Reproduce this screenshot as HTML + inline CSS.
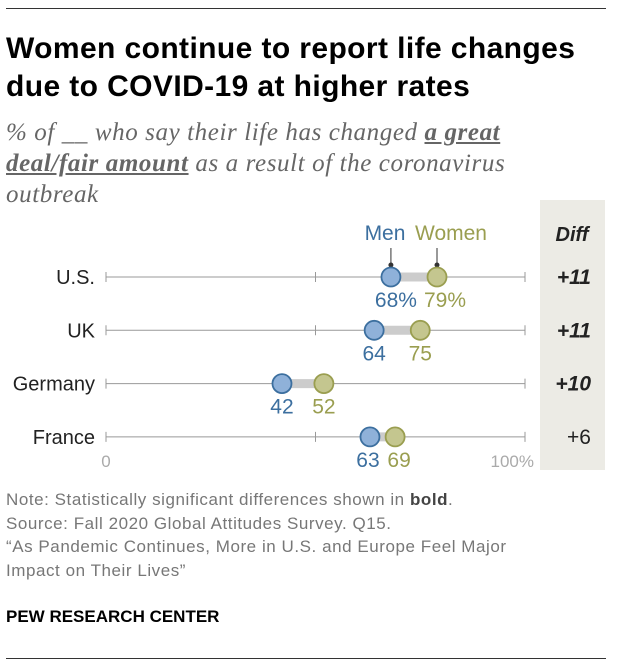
<!DOCTYPE html>
<html><head><meta charset="utf-8"><style>
body{margin:0;background:#fff;font-family:"Liberation Sans",sans-serif;}
#wrap{position:relative;width:620px;height:672px;overflow:hidden;}
.t{position:absolute;white-space:nowrap;}
</style></head><body>
<div id="wrap">
<div style="position:absolute;left:6px;top:8px;width:600px;border-top:1px solid #333"></div>
<div class="t" style="left:6px;top:30px;font-size:30px;font-weight:bold;color:#000;line-height:38px;letter-spacing:0.4px">Women continue to report life changes<br>due to COVID-19 at higher rates</div>
<div class="t" style="left:6px;top:117px;font-family:'Liberation Serif',serif;font-style:italic;font-size:25px;color:#666;line-height:31px;letter-spacing:0.6px">% of __ who say their life has changed <b style="text-decoration:underline">a great<br>deal/fair amount</b> as a result of the coronavirus<br>outbreak</div>
<svg id="svg" width="620" height="672" style="position:absolute;left:0;top:0"></svg>
<div class="t" style="left:6px;top:488px;font-size:17px;color:#777;line-height:23.5px;letter-spacing:0.55px">Note: Statistically significant differences shown in <b style="color:#444">bold</b>.<br>Source: Fall 2020 Global Attitudes Survey. Q15.<br>“As Pandemic Continues, More in U.S. and Europe Feel Major<br>Impact on Their Lives”</div>
<div class="t" style="left:6px;top:607px;font-size:17px;font-weight:bold;color:#000">PEW RESEARCH CENTER</div>
<div style="position:absolute;left:6px;top:658px;width:600px;border-top:1px solid #333"></div>
</div>
<script>
const countries=["U.S.","UK","Germany","France"];
const men=[68,64,42,63];
const women=[79,75,52,69];
const diffs=["+11","+11","+10","+6"];
const bold=[true,true,true,false];
const NS="http://www.w3.org/2000/svg",svg=document.getElementById('svg');
const x=v=>106+v*4.19, y=i=>277+i*53.3;
function mk(t,a,p){const e=document.createElementNS(NS,t);for(const k in a)e.setAttribute(k,a[k]);(p||svg).appendChild(e);return e;}
const panel=mk('rect',{x:540,y:200,width:65,height:270,fill:'#ecebe5'});


const dh=mk('text',{x:572,y:241,'text-anchor':'middle','font-size':20,'font-weight':'bold','font-style':'italic',fill:'#222'});dh.textContent='Diff';


const lm=mk('text',{x:385,y:240,'text-anchor':'middle','font-size':21,fill:'#3c6f9f'});lm.textContent='Men';


const lw=mk('text',{x:451,y:240,'text-anchor':'middle','font-size':21,fill:'#9a9e50'});lw.textContent='Women';


mk('line',{x1:x(men[0]),x2:x(men[0]),y1:248,y2:265,stroke:'#333'});
mk('circle',{cx:x(men[0]),cy:265,r:2.5,fill:'#333'});
mk('line',{x1:x(women[0]),x2:x(women[0]),y1:248,y2:265,stroke:'#333'});
mk('circle',{cx:x(women[0]),cy:265,r:2.5,fill:'#333'});
countries.forEach((c,i)=>{
 const g=mk('g',{});
 
 
 const yy=y(i);
 mk('line',{x1:x(0),x2:x(100),y1:yy,y2:yy,stroke:'#999','stroke-width':1},g);
 [0,50,100].forEach(v=>mk('line',{x1:x(v),x2:x(v),y1:yy-5,y2:yy+5,stroke:'#999'},g));
 mk('line',{x1:x(men[i]),x2:x(women[i]),y1:yy,y2:yy,stroke:'#ccc','stroke-width':9},g);
 const lab=mk('text',{x:95,y:yy+7,'text-anchor':'end','font-size':20,fill:'#222'},g);lab.textContent=c;
 const cm=mk('circle',{cx:x(men[i]),cy:yy,r:9.5,fill:'#8fb1d9',stroke:'#3c6f9f','stroke-width':1.8},g);
 
 
 const cw=mk('circle',{cx:x(women[i]),cy:yy,r:9.5,fill:'#c4c68f',stroke:'#9a9e50','stroke-width':1.8},g);
 
 
 const sfx=i===0?'%':'';
 const close=(women[i]-men[i])<8;
 const tm=mk('text',{x:x(men[i])+(i===0?5:0)-(close?2:0),y:yy+30,'text-anchor':'middle','font-size':21,fill:'#3c6f9f'},g);tm.textContent=men[i]+sfx;
 const tw=mk('text',{x:x(women[i])+(i===0?8:0)+(close?4:0),y:yy+30,'text-anchor':'middle','font-size':21,fill:'#9a9e50'},g);tw.textContent=women[i]+sfx;
 const d=mk('text',{x:591,y:yy+7,'text-anchor':'end','font-size':21,'font-weight':bold[i]?'bold':'normal','font-style':bold[i]?'italic':'normal',fill:'#222'},g);d.textContent=diffs[i];
});
const a0=mk('text',{x:x(0),y:y(3)+30,'text-anchor':'middle','font-size':17,fill:'#aaa'});a0.textContent='0';


const a1=mk('text',{x:x(100)+9,y:y(3)+30,'text-anchor':'end','font-size':17,fill:'#aaa'});a1.textContent='100%';


</script>
</body></html>
